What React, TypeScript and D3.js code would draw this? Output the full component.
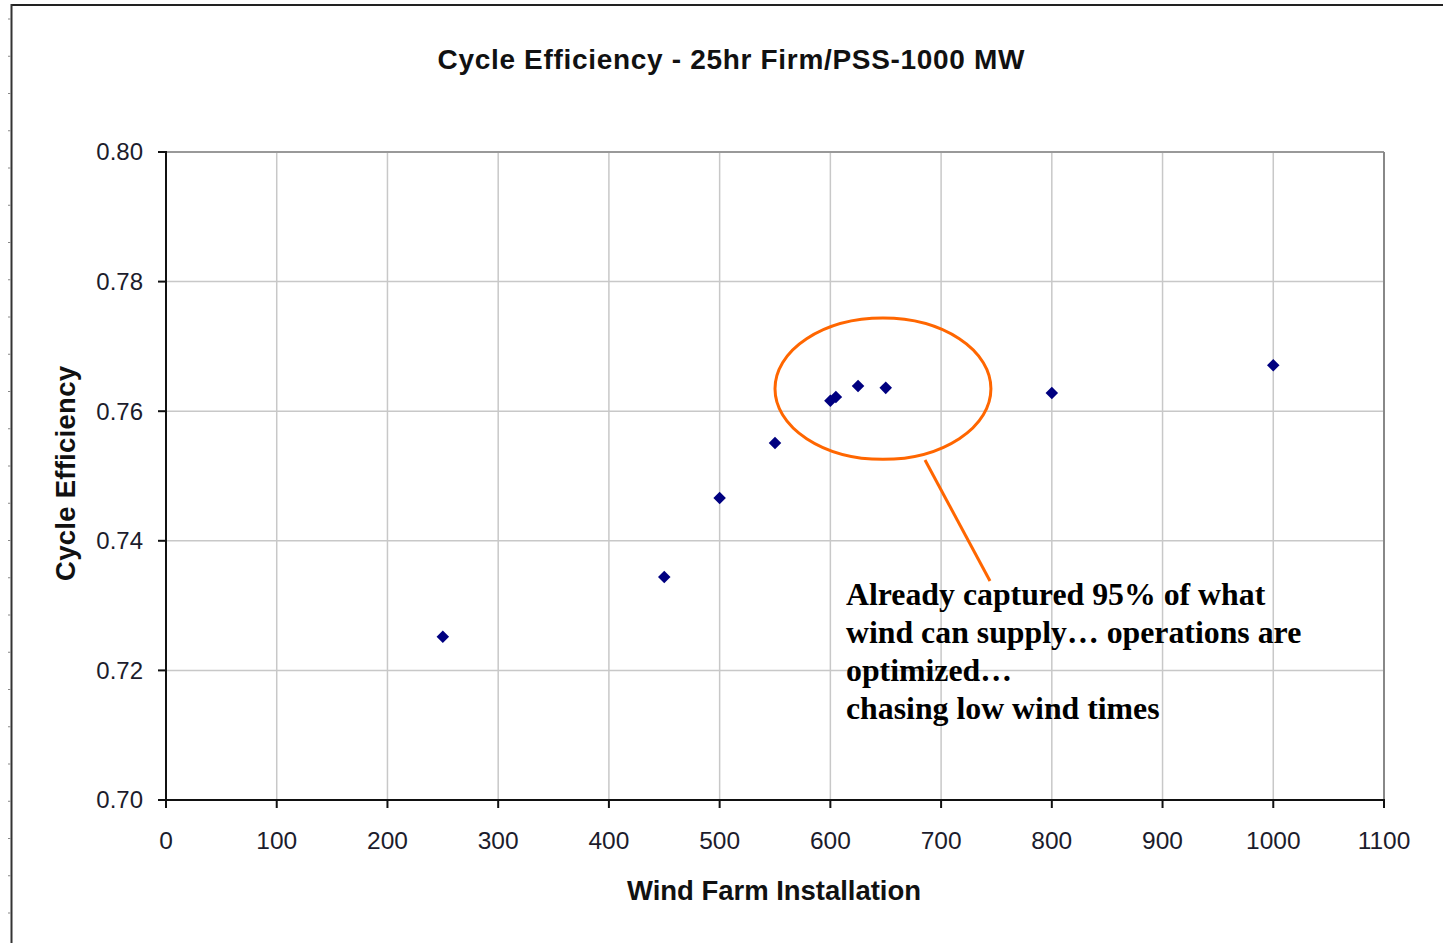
import React from "react";
import * as d3 from "d3";

const xValues = [250, 450, 500, 550, 600, 605, 625, 650, 800, 1000];
const yValues = [0.7252, 0.7344, 0.7466, 0.7551, 0.7616, 0.7622, 0.7639, 0.7636, 0.7628, 0.7671];
const xTicks = [0, 100, 200, 300, 400, 500, 600, 700, 800, 900, 1000, 1100];
const yTicks = [0.7, 0.72, 0.74, 0.76, 0.78, 0.8];
const annotationLines = [
  "Already captured 95% of what",
  "wind can supply\u2026 operations are",
  "optimized\u2026",
  "chasing low wind times",
];
const titleText = "Cycle Efficiency - 25hr Firm/PSS-1000 MW";
const xTitle = "Wind Farm Installation";
const yTitle = "Cycle Efficiency";

const W = 1443;
const H = 943;
const M = { left: 166, right: 1384, top: 152, bottom: 800 };

export default function App() {
  const x = d3.scaleLinear().domain([0, 1100]).range([M.left, M.right]);
  const y = d3.scaleLinear().domain([0.7, 0.8]).range([M.bottom, M.top]);
  const sans = "'Liberation Sans', Arial, sans-serif";
  const serif = "'Liberation Serif', 'Times New Roman', serif";
  const frameTicks = d3.range(19, H, 37.25);
  const diamond = d3.symbol().type(d3.symbolDiamond2).size(100)();

  // ellipse around the 600-650 cluster
  const ecx = x(647.5);
  const ecy = y(0.76347);
  const erx = x(97.5) - x(0);
  const ery = y(0.7) - y(0.7109);

  return (
    <svg width={W} height={H} style={{ position: "absolute", left: 0, top: 0, background: "#fff" }}>
      <rect x={0} y={0} width={W} height={H} fill="#fff" />
      {/* outer frame */}
      <line x1={11} x2={W} y1={5} y2={5} stroke="#222" strokeWidth={2} />
      <line x1={11.5} x2={11.5} y1={4} y2={H} stroke="#333" strokeWidth={2} />
      {frameTicks.map((t, i) => (
        <line key={i} x1={8} x2={11} y1={t} y2={t} stroke="#888" strokeWidth={1} />
      ))}

      {/* gridlines */}
      {xTicks.slice(1).map((t) => (
        <line key={"gx" + t} x1={x(t)} x2={x(t)} y1={M.top} y2={M.bottom} stroke="#c8c8c8" strokeWidth={1.5} />
      ))}
      {yTicks.slice(1).map((t) => (
        <line key={"gy" + t} x1={M.left} x2={M.right} y1={y(t)} y2={y(t)} stroke="#c8c8c8" strokeWidth={1.5} />
      ))}
      {/* top & right border */}
      <line x1={M.left} x2={M.right} y1={M.top} y2={M.top} stroke="#999" strokeWidth={2} />
      <line x1={M.right} x2={M.right} y1={M.top} y2={M.bottom} stroke="#888" strokeWidth={2} />

      {/* axes */}
      <line x1={M.left} x2={M.left} y1={M.top - 1} y2={M.bottom} stroke="#111" strokeWidth={2} />
      <line x1={M.left} x2={M.right + 1} y1={M.bottom} y2={M.bottom} stroke="#111" strokeWidth={2} />
      {yTicks.map((t) => (
        <g key={"yt" + t}>
          <line x1={M.left - 8} x2={M.left} y1={y(t)} y2={y(t)} stroke="#111" strokeWidth={2} />
          <text x={143} y={y(t)} dy="0.35em" textAnchor="end" fontFamily={sans} fontSize={24} fill="#1c1c2c">
            {t.toFixed(2)}
          </text>
        </g>
      ))}
      {xTicks.map((t) => (
        <g key={"xt" + t}>
          <line x1={x(t)} x2={x(t)} y1={M.bottom} y2={M.bottom + 8} stroke="#111" strokeWidth={2} />
          <text x={x(t)} y={840} dy="0.35em" textAnchor="middle" fontFamily={sans} fontSize={24.5} fill="#1c1c2c">
            {t}
          </text>
        </g>
      ))}

      {/* titles */}
      <text x={731} y={59} dy="0.35em" textAnchor="middle" fontFamily={sans} fontWeight="bold" fontSize={28}
        textLength={587} lengthAdjust="spacing" fill="#111">
        {titleText}
      </text>
      <text x={774} y={890} dy="0.35em" textAnchor="middle" fontFamily={sans} fontWeight="bold" fontSize={27.5}
        textLength={294} lengthAdjust="spacing" fill="#111">
        {xTitle}
      </text>
      <text
        transform={`translate(65,${473.5}) rotate(-90)`}
        dy="0.35em"
        textAnchor="middle"
        fontFamily={sans}
        fontWeight="bold"
        fontSize={27.5}
        textLength={215}
        lengthAdjust="spacing"
        fill="#111"
      >
        {yTitle}
      </text>

      {/* points */}
      {xValues.map((v, i) => (
        <path key={"p" + i} d={diamond} transform={`translate(${x(v)},${y(yValues[i])})`} fill="#000080" />
      ))}

      {/* annotation */}
      <ellipse cx={ecx} cy={ecy} rx={erx} ry={ery} fill="none" stroke="#ff6600" strokeWidth={3} />
      <line x1={925} y1={460} x2={990} y2={581} stroke="#ff6600" strokeWidth={3} />
      {annotationLines.map((s, i) => (
        <text key={"a" + i} x={846} y={605 + i * 38} fontFamily={serif} fontWeight="bold" fontSize={31.8} fill="#000">
          {s}
        </text>
      ))}
    </svg>
  );
}
